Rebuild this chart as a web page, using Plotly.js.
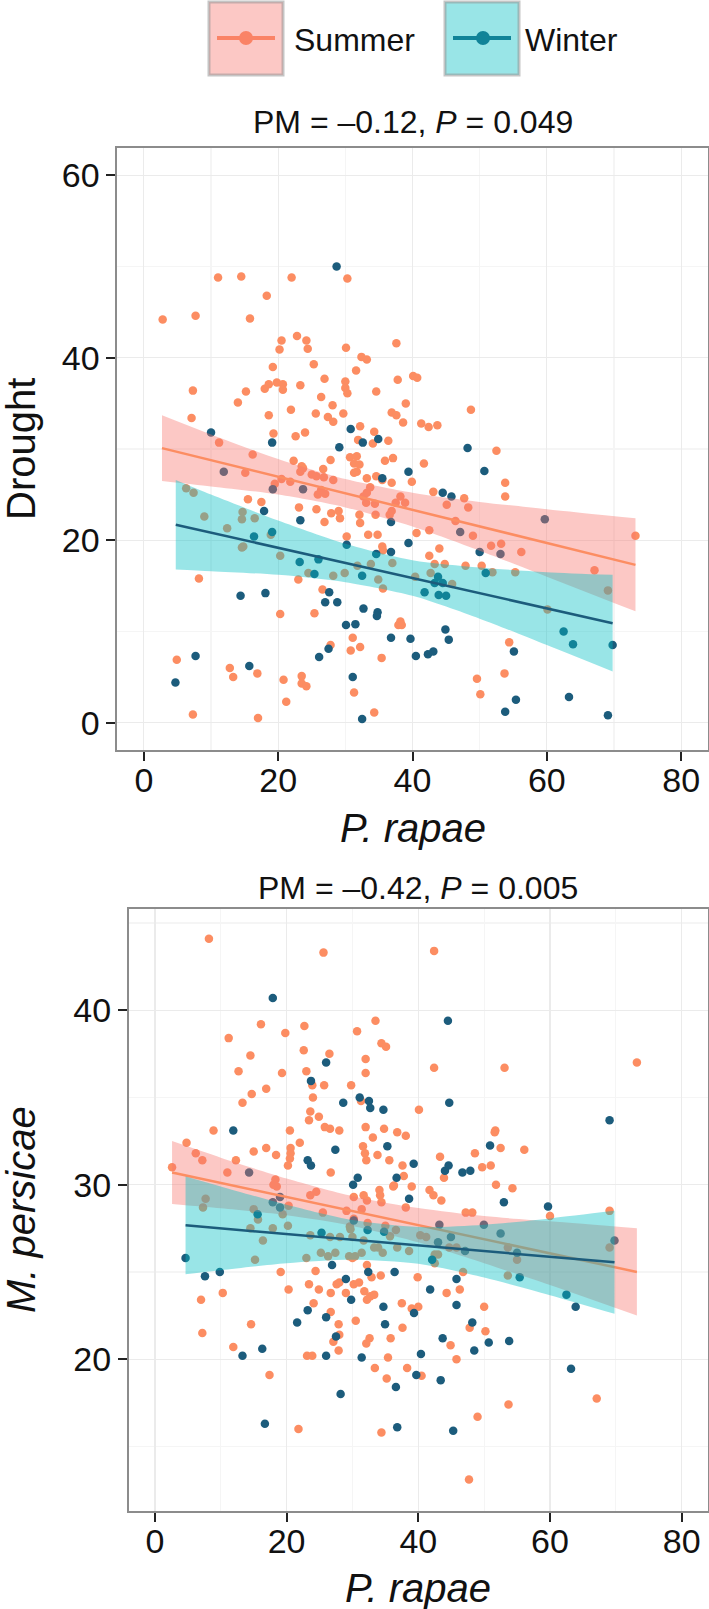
<!DOCTYPE html>
<html>
<head>
<meta charset="utf-8">
<script src="https://cdn.plot.ly/plotly-3.0.1.min.js"></script>
<style>html,body{margin:0;padding:0;background:#fff;}#chart{width:709px;height:1609px;}</style>
</head>
<body>
<div id="chart"></div>
<script>
// ---------- DATA ----------
const seasons = ["Summer", "Winter"];
const panelTitles = ["PM = –0.12, <i>P</i> = 0.049", "PM = –0.42, <i>P</i> = 0.005"];
const yTitles = ["Drought", "<i>M. persicae</i>"];
const xTitle = "<i>P. rapae</i>";

// Panel 1: Drought vs P. rapae
const summerTopX = [
11.05,14.5,22.0,30.3,18.3,2.8,7.7,15.8,22.8,20.5,
24.2,20.2,24.4,30.1,37.6,32.4,33.2,25.3,19.2,31.6,
26.9,37.8,7.3,15.2,18.0,18.6,19.8,20.7,20.7,23.3,
30.0,30.0,30.3,34.6,26.4,14.0,28.1,21.9,25.6,29.7,
27.4,36.9,37.6,7.1,18.6,40.1,40.7,39.0,48.7,28.2,
19.3,22.6,24.0,32.2,34.3,11.2,31.9,34.1,36.4,16.2,
27.8,22.3,23.5,30.7,31.7,35.9,37.1,31.3,32.1,31.7,
31.3,15.1,23.3,23.7,25.0,25.7,26.7,26.8,28.2,19.5,
20.5,21.8,26.4,25.9,27.0,33.2,34.6,35.5,36.9,33.2,
32.7,33.7,33.1,34.4,34.5,36.6,15.5,17.5,23.1,25.7,
26.9,27.9,29.0,29.2,32.1,32.2,6.3,7.4,9.0,12.4,
14.7,14.6,16.5,18.9,14.8,14.6,20.3,24.5,28.2,29.9,
31.8,33.8,34.9,35.6,37.0,30.2,33.4,34.8,35.5,35.6,
8.2,23.0,26.6,20.3,25.4,37.9,31.1,32.2,30.8,27.8,
35.4,4.9,12.8,13.3,16.9,20.8,23.5,23.5,24.2,31.3,
21.2,7.3,17.0,34.3,38.6,41.3,42.4,43.7,41.7,52.5,
39.9,53.8,53.8,43.1,38.2,37.5,38.9,36.9,45.1,47.7,
48.3,46.4,40.6,42.5,44.0,49.0,51.7,53.2,73.2,56.2,
42.5,67.1,43.3,44.8,47.9,50.3,51.9,55.3,40.4,42.7,
45.9,69.1,60.1,38.2,38.4,54.4,49.6,50.1,53.7];
const summerTopY = [
48.8,48.9,48.8,48.7,46.8,44.2,44.6,44.3,42.4,41.9,
41.9,40.9,41.0,41.1,41.6,40.1,39.8,39.3,39.0,38.6,
37.7,37.6,36.4,36.3,36.6,37.1,37.3,37.1,36.5,37.0,
37.4,36.7,36.1,36.3,35.7,35.1,34.8,34.3,33.9,33.9,
33.5,34.0,33.7,33.4,33.7,38.0,37.8,35.0,34.3,33.0,
31.7,31.4,31.8,32.5,31.9,30.7,31.0,30.6,30.9,29.4,
28.8,28.7,28.1,29.1,29.2,28.7,29.0,28.4,28.3,27.5,
27.4,27.4,27.5,27.9,27.2,27.0,27.8,26.9,26.6,26.2,
26.7,26.4,25.5,25.0,25.1,26.8,27.0,26.6,26.3,25.2,
24.8,25.8,24.1,24.0,22.8,22.8,24.5,24.2,23.6,23.4,
22.0,22.95,23.2,22.4,22.8,21.9,25.7,25.2,22.6,21.3,
23.1,22.3,22.4,20.6,19.3,19.2,18.3,16.4,16.1,16.4,
17.2,17.4,15.7,14.7,17.5,20.4,20.6,20.6,19.3,18.9,
15.8,15.7,14.6,11.9,12.0,10.7,9.3,8.3,7.9,8.5,
7.1,6.9,6.0,5.0,5.4,4.7,5.1,4.3,4.0,3.3,
2.3,0.9,0.5,1.1,32.9,32.8,32.4,32.6,28.4,29.8,
26.4,26.3,24.8,25.3,24.8,24.1,24.1,23.2,23.9,24.6,
23.6,22.1,20.8,21.1,19.1,20.5,19.4,19.6,20.5,18.7,
18.3,16.7,17.4,17.4,17.2,17.2,16.5,16.5,16.0,16.4,
15.2,14.5,12.4,11.1,10.7,8.8,4.8,3.1,5.4];
const winterTopX = [
28.7,10.0,19.1,30.8,32.6,34.9,29.1,11.9,19.2,23.7,
35.5,17.9,23.3,36.8,16.4,19.1,23.2,26.0,25.4,30.2,
32.5,34.6,36.8,14.4,18.1,27.6,27.0,28.8,32.7,34.8,
34.7,30.1,31.5,36.8,27.5,26.1,7.7,15.7,4.7,31.1,
32.5,48.2,39.4,50.7,44.5,45.8,47.1,59.7,39.4,50.0,
53.1,50.9,43.8,43.3,44.5,41.8,43.9,45.0,62.5,63.9,
69.8,39.7,40.5,42.3,43.1,44.9,45.4,55.1,53.8,55.4,
63.3,69.1];
const winterTopY = [
50.0,31.8,30.7,32.2,30.7,31.1,30.2,27.5,25.6,25.6,
26.8,23.2,22.2,22.0,20.4,20.9,17.6,17.9,16.3,19.5,
16.1,18.5,18.7,13.9,14.2,14.3,13.2,13.2,12.5,12.1,
11.7,10.7,10.8,9.3,8.1,7.2,7.3,6.2,4.4,5.0,
0.4,30.1,27.5,27.6,25.2,24.8,20.9,22.3,19.7,18.7,
18.5,16.4,16.0,15.3,15.3,14.3,14.0,13.9,10.0,8.6,
8.5,9.2,7.3,7.5,7.8,10.2,9.1,7.8,1.2,2.5,
2.8,0.8];
// fitted lines and 95% bands (panel 1)
const summerTopFitX = [2.7, 73.2], summerTopFitY = [30.1, 17.3];
const summerTopBandX = [2.7,10,20,30,40,50,60,73.2];
const summerTopBandLo = [26.5,25.9,25.0,23.6,21.5,18.85,16.0,12.2];
const summerTopBandHi = [33.7,31.6,28.9,26.7,25.2,24.2,23.4,22.4];
const winterTopFitX = [4.75, 69.8], winterTopFitY = [21.7, 10.9];
const winterTopBandX = [4.75,10,20,30,40,50,60,69.8];
const winterTopBandLo = [16.8,16.6,16.2,15.4,13.9,11.4,8.5,5.6];
const winterTopBandHi = [26.6,25.0,22.15,19.6,17.8,17.0,16.5,16.2];

// Panel 2: M. persicae vs P. rapae
const summerBotX = [
8.2,25.6,16.1,19.8,22.7,11.2,30.7,33.5,34.4,35.1,
22.6,14.5,26.5,32.0,12.7,19.3,23.0,32.0,23.9,25.7,
29.8,16.9,14.7,13.3,24.0,31.3,23.6,24.9,23.4,25.8,
26.6,28.0,32.0,34.8,8.9,20.5,42.4,42.4,53.1,73.2,
40.1,51.7,36.8,4.8,6.2,7.2,12.3,15.0,16.9,18.4,
22.0,20.6,20.6,20.5,20.2,31.6,31.9,32.1,33.1,33.8,
35.6,36.3,2.6,11.0,26.7,18.3,18.5,18.0,23.6,24.5,
30.2,31.7,32.2,34.1,34.2,34.4,36.2,29.1,31.4,7.7,
7.3,15.0,15.65,19.4,20.3,25.5,30.2,29.6,32.3,35.0,
36.6,14.5,17.9,20.2,16.4,23.6,26.6,28.1,29.7,30.0,
31.7,33.9,34.6,36.8,15.2,23.0,25.2,26.3,27.4,29.5,
30.4,31.4,33.3,30.0,32.2,34.3,32.9,19.1,24.4,7.0,
10.3,20.3,23.4,24.9,27.6,28.0,30.2,31.0,29.0,26.7,
31.8,32.7,32.2,33.3,24.1,26.7,30.5,27.9,28.0,27.1,
32.6,32.1,35.8,35.4,33.4,35.2,14.6,7.2,11.9,17.4,
23.1,23.9,27.9,38.1,51.6,52.5,56.1,48.6,49.7,51.0,
43.3,43.9,51.8,54.3,37.6,37.8,39.0,41.7,42.3,43.5,
38.1,47.2,48.2,60.0,69.05,35.7,40.3,41.2,38.6,42.5,
43.0,44.7,45.8,53.6,55.0,42.5,69.05,53.6,46.8,39.9,
44.3,46.3,50.0,37.5,39.0,40.0,47.8,50.2,37.6,44.9,
45.8,38.3,40.5,53.7,67.1,49.0,21.8,34.4,47.7];
const summerBotY = [
44.1,43.3,39.2,38.7,39.1,38.4,38.8,39.4,38.1,37.9,
37.7,37.4,37.5,37.2,36.5,36.4,36.5,36.4,35.7,35.7,
35.7,35.5,35.2,34.7,35.0,34.8,34.2,33.9,33.7,33.3,
33.2,33.1,33.3,33.2,33.1,33.1,43.4,36.7,36.7,37.0,
34.3,33.1,33.0,32.4,31.8,31.4,31.4,31.9,32.1,31.7,
32.4,32.1,31.8,31.5,31.1,32.2,31.8,31.4,32.7,31.7,
31.4,29.96,31.0,30.7,30.7,30.3,29.9,30.0,29.4,29.6,
29.3,29.4,29.1,29.7,29.4,29.0,29.9,28.5,28.6,29.2,
28.7,28.6,28.0,28.3,28.8,28.4,28.05,27.6,27.8,27.65,
27.4,27.5,27.5,27.65,26.8,27.1,27.0,27.0,27.45,27.0,
26.8,26.4,26.1,26.4,25.7,25.8,26.1,25.9,26.1,25.9,
25.9,26.1,26.4,25.8,25.4,24.8,24.7,25.0,25.05,23.4,
23.8,24.0,24.3,24.0,24.3,24.4,24.3,24.4,23.8,23.8,
23.9,23.6,23.4,23.7,23.2,22.7,22.2,22.0,21.4,21.0,
21.2,20.9,21.2,20.1,19.5,18.9,22.0,21.5,20.7,19.1,
20.2,20.2,20.5,32.8,33.0,32.1,32.0,31.8,31.0,31.1,
31.6,30.4,30.0,29.8,31.1,30.5,29.9,29.7,29.4,29.1,
28.7,28.4,28.4,28.2,28.5,27.05,27.1,27.0,26.2,26.0,
26.0,26.4,26.4,26.4,25.7,25.5,26.4,24.8,25.0,24.7,
23.8,24.0,23.0,23.2,22.9,23.0,21.8,21.6,21.8,20.8,
20.0,19.5,19.05,17.4,17.75,16.7,16.0,15.8,13.1];
const winterBotX = [
17.9,26.0,23.7,28.6,31.1,32.5,32.7,34.7,11.9,44.5,
44.7,69.05,27.4,23.2,23.7,35.3,36.7,14.3,30.1,30.8,
19.0,17.9,19.0,15.6,30.2,25.3,32.3,34.8,4.65,26.9,
7.6,9.85,32.4,36.4,29.0,29.8,23.2,21.6,26.0,34.7,
34.95,27.5,16.3,13.3,26.0,31.4,28.2,36.6,39.3,44.05,
44.6,46.7,47.9,50.9,38.6,53.0,59.7,43.2,49.96,52.5,
44.96,43.0,47.1,55.0,69.8,55.4,62.5,42.1,63.9,45.8,
41.8,45.8,48.2,39.35,43.7,48.5,50.7,53.8,40.4,39.7,
43.4,63.2,16.7,36.8,45.3];
const winterBotY = [
40.7,37.0,35.95,34.7,35.0,34.8,34.4,34.3,33.1,39.4,
34.7,33.7,32.0,31.4,31.1,32.2,30.4,30.7,30.0,30.4,
29.3,29.0,28.7,28.3,27.95,27.25,27.4,27.3,25.8,25.4,
24.75,25.0,25.0,25.0,24.6,23.4,22.8,22.1,22.4,23.0,
22.0,21.3,20.6,20.2,20.2,20.1,18.0,18.4,31.2,30.8,
31.1,30.7,30.8,32.25,29.2,29.0,28.75,27.7,27.7,27.2,
27.0,26.7,26.2,26.1,26.8,24.7,23.7,25.7,23.0,24.6,
24.0,23.1,22.1,22.65,21.2,20.5,20.95,21.04,20.3,19.1,
18.8,19.45,16.3,16.1,15.9];
const summerBotFitX = [2.6, 73.2], summerBotFitY = [30.7, 25.0];
const summerBotBandX = [2.6,10,20,30,40,50,60,73.2];
const summerBotBandLo = [28.9,28.65,28.25,27.64,26.7,25.5,24.25,22.5];
const summerBotBandHi = [32.5,31.55,30.35,29.34,28.66,28.2,27.9,27.5];
const winterBotFitX = [4.65, 69.8], winterBotFitY = [27.67, 25.55];
const winterBotBandX = [4.65,10,20,30,40,50,60,69.8];
const winterBotBandLo = [24.87,25.1,25.5,25.7,25.47,24.68,23.67,22.6];
const winterBotBandHi = [30.47,29.9,28.85,27.97,27.57,27.7,28.07,28.5];

// ---------- STYLE ----------
const W = 709, H = 1609;
const FONT = '"Liberation Sans", Arial, Helvetica, sans-serif';
const C = {
  sPt: '#FC8D62', wPt: '#1C5C7C',
  sLine: '#FC8D62', wLine: '#1C5C7C',
  sFill: 'rgba(248,118,109,0.4)', wFill: 'rgba(0,191,196,0.4)'
};
const px = v => v / W;          // pixel -> paper x
const py = v => 1 - v / H;      // pixel (from top) -> paper y

function panelTraces(xa, ya, sX, sY, wX, wY, sFX, sFY, sBX, sLo, sHi, wFX, wFY, wBX, wLo, wHi) {
  const base = {xaxis: xa, yaxis: ya, showlegend: false, hoverinfo: 'skip'};
  return [
    Object.assign({}, base, {type: 'scatter', mode: 'markers', x: sX, y: sY, name: seasons[0],
      marker: {color: C.sPt, size: 8.5, line: {width: 0}}}),
    Object.assign({}, base, {type: 'scatter', mode: 'markers', x: wX, y: wY, name: seasons[1],
      marker: {color: C.wPt, size: 8.5, line: {width: 0}}}),
    Object.assign({}, base, {type: 'scatter', mode: 'lines', x: sBX, y: sLo,
      line: {width: 0, shape: 'spline', smoothing: 0.8}}),
    Object.assign({}, base, {type: 'scatter', mode: 'lines', x: sBX, y: sHi, fill: 'tonexty',
      fillcolor: C.sFill, line: {width: 0, shape: 'spline', smoothing: 0.8}}),
    Object.assign({}, base, {type: 'scatter', mode: 'lines', x: sFX, y: sFY,
      line: {color: C.sLine, width: 2.5}}),
    Object.assign({}, base, {type: 'scatter', mode: 'lines', x: wBX, y: wLo,
      line: {width: 0, shape: 'spline', smoothing: 0.8}}),
    Object.assign({}, base, {type: 'scatter', mode: 'lines', x: wBX, y: wHi, fill: 'tonexty',
      fillcolor: C.wFill, line: {width: 0, shape: 'spline', smoothing: 0.8}}),
    Object.assign({}, base, {type: 'scatter', mode: 'lines', x: wFX, y: wFY,
      line: {color: C.wLine, width: 2.5}})
  ];
}

const data = [].concat(
  panelTraces('x', 'y', summerTopX, summerTopY, winterTopX, winterTopY,
    summerTopFitX, summerTopFitY, summerTopBandX, summerTopBandLo, summerTopBandHi,
    winterTopFitX, winterTopFitY, winterTopBandX, winterTopBandLo, winterTopBandHi),
  panelTraces('x2', 'y2', summerBotX, summerBotY, winterBotX, winterBotY,
    summerBotFitX, summerBotFitY, summerBotBandX, summerBotBandLo, summerBotBandHi,
    winterBotFitX, winterBotFitY, winterBotBandX, winterBotBandLo, winterBotBandHi)
);

function axis(extra) {
  return Object.assign({
    showgrid: true, gridcolor: '#EBEBEB', gridwidth: 1.2,
    zeroline: false, showline: true, mirror: true, linecolor: '#8C8C8C', linewidth: 1.6,
    ticks: 'outside', ticklen: 9, tickwidth: 2, tickcolor: '#222',
    tickfont: {family: FONT, size: 34, color: '#111'},
    fixedrange: true, layer: 'above traces'
  }, extra);
}

const layout = {
  width: W, height: H,
  margin: {l: 0, r: 0, t: 0, b: 0},
  paper_bgcolor: '#fff', plot_bgcolor: '#fff',
  font: {family: FONT, color: '#111'},
  showlegend: false,
  xaxis: axis({domain: [px(117), px(708)], range: [-4, 84], tick0: 0, dtick: 20, anchor: 'y',
    ticklabelstandoff: -9,
    minor: {dtick: 10, showgrid: true, gridcolor: '#F5F5F5', ticks: ''}}),
  yaxis: axis({domain: [py(750), py(148)], range: [-3, 63], tick0: 0, dtick: 20, anchor: 'x',
    minor: {dtick: 10, showgrid: true, gridcolor: '#F5F5F5', ticks: ''}}),
  xaxis2: axis({domain: [px(128.6), px(708)], range: [-4, 84], tick0: 0, dtick: 20, anchor: 'y2',
    ticklabelstandoff: -9,
    minor: {dtick: 10, showgrid: true, gridcolor: '#F5F5F5', ticks: ''}}),
  yaxis2: axis({domain: [py(1511), py(909)], range: [11.3, 45.8], tick0: 0, dtick: 10, anchor: 'x2',
    minor: {dtick: 5, showgrid: true, gridcolor: '#F5F5F5', ticks: ''}}),
  annotations: [
    {text: panelTitles[0], xref: 'paper', yref: 'paper', x: px(413), y: py(122), xanchor: 'center', yanchor: 'middle', showarrow: false, font: {size: 32}},
    {text: panelTitles[1], xref: 'paper', yref: 'paper', x: px(418), y: py(888), xanchor: 'center', yanchor: 'middle', showarrow: false, font: {size: 32}},
    {text: xTitle, xref: 'paper', yref: 'paper', x: px(413), y: py(828), xanchor: 'center', yanchor: 'middle', showarrow: false, font: {size: 40}},
    {text: xTitle, xref: 'paper', yref: 'paper', x: px(418), y: py(1588), xanchor: 'center', yanchor: 'middle', showarrow: false, font: {size: 40}},
    {text: yTitles[0], xref: 'paper', yref: 'paper', x: px(21), y: py(449), xanchor: 'center', yanchor: 'middle', textangle: -90, showarrow: false, font: {size: 40}},
    {text: yTitles[1], xref: 'paper', yref: 'paper', x: px(21), y: py(1210), xanchor: 'center', yanchor: 'middle', textangle: -90, showarrow: false, font: {size: 40}},
    {text: seasons[0], xref: 'paper', yref: 'paper', x: px(292), y: py(40), xanchor: 'left', yanchor: 'middle', showarrow: false, font: {size: 32}},
    {text: seasons[1], xref: 'paper', yref: 'paper', x: px(523), y: py(40), xanchor: 'left', yanchor: 'middle', showarrow: false, font: {size: 32}}
  ],
  shapes: [
    // Summer key
    {type: 'line', xref: 'paper', yref: 'paper', x0: px(217), x1: px(275), y0: py(38), y1: py(38), line: {color: C.sLine, width: 4}},
    {type: 'circle', xref: 'paper', yref: 'paper', x0: px(239), x1: px(253), y0: py(45), y1: py(31), fillcolor: C.sPt, line: {width: 0}},
    {type: 'rect', xref: 'paper', yref: 'paper', x0: px(209), x1: px(283), y0: py(75), y1: py(2), fillcolor: C.sFill, line: {color: 'rgba(150,150,150,0.55)', width: 3}},
    // Winter key
    {type: 'line', xref: 'paper', yref: 'paper', x0: px(453), x1: px(511), y0: py(38), y1: py(38), line: {color: C.wLine, width: 4}},
    {type: 'circle', xref: 'paper', yref: 'paper', x0: px(476), x1: px(490), y0: py(45), y1: py(31), fillcolor: C.wPt, line: {width: 0}},
    {type: 'rect', xref: 'paper', yref: 'paper', x0: px(445), x1: px(519), y0: py(75), y1: py(2), fillcolor: C.wFill, line: {color: 'rgba(150,150,150,0.55)', width: 3}}
  ]
};

Plotly.newPlot('chart', data, layout, {staticPlot: true, displayModeBar: false});
</script>
</body>
</html>
